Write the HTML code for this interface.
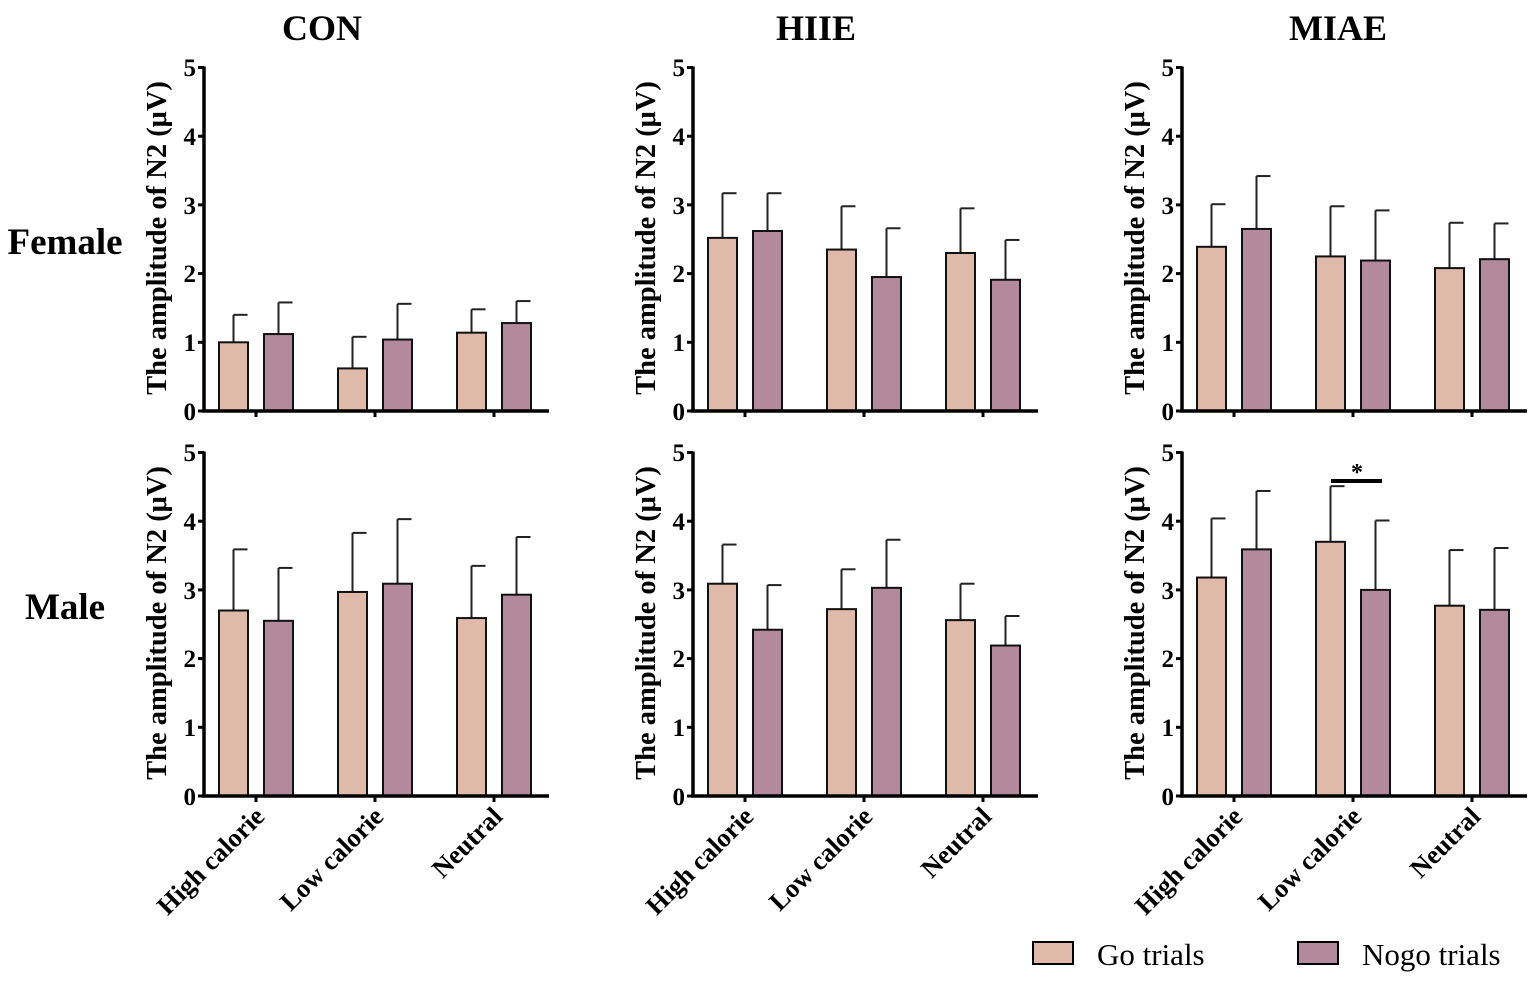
<!DOCTYPE html>
<html><head><meta charset="utf-8"><style>
html,body{margin:0;padding:0;background:#fff;}
svg{display:block;font-family:"Liberation Serif",serif;}
.t{font-weight:bold;font-size:25px;text-anchor:end;}
.yl{font-weight:bold;font-size:28.5px;text-anchor:middle;}
.c{font-weight:bold;font-size:26.5px;text-anchor:end;}
</style></head><body>
<svg id="s" width="1535" height="983" viewBox="0 0 1535 983" xmlns="http://www.w3.org/2000/svg">
<g id="shapes"></g>
<text x="322" y="40" font-size="36" font-weight="bold" text-anchor="middle">CON</text>
<text x="816" y="40" font-size="36" font-weight="bold" text-anchor="middle">HIIE</text>
<text x="1338" y="40" font-size="36" font-weight="bold" text-anchor="middle">MIAE</text>
<text x="65" y="254" font-size="37" font-weight="bold" text-anchor="middle">Female</text>
<text x="65" y="619" font-size="37" font-weight="bold" text-anchor="middle">Male</text>

<g class="t">
<text x="196" y="420">0</text><text x="196" y="351">1</text><text x="196" y="282">2</text><text x="196" y="214">3</text><text x="196" y="145">4</text><text x="196" y="76">5</text>
<text x="685" y="420">0</text><text x="685" y="351">1</text><text x="685" y="282">2</text><text x="685" y="214">3</text><text x="685" y="145">4</text><text x="685" y="76">5</text>
<text x="1174" y="420">0</text><text x="1174" y="351">1</text><text x="1174" y="282">2</text><text x="1174" y="214">3</text><text x="1174" y="145">4</text><text x="1174" y="76">5</text>
<text x="196" y="805">0</text><text x="196" y="736">1</text><text x="196" y="667">2</text><text x="196" y="599">3</text><text x="196" y="530">4</text><text x="196" y="461">5</text>
<text x="685" y="805">0</text><text x="685" y="736">1</text><text x="685" y="667">2</text><text x="685" y="599">3</text><text x="685" y="530">4</text><text x="685" y="461">5</text>
<text x="1174" y="805">0</text><text x="1174" y="736">1</text><text x="1174" y="667">2</text><text x="1174" y="599">3</text><text x="1174" y="530">4</text><text x="1174" y="461">5</text>
</g>
<g class="yl">
<text transform="translate(166,238) rotate(-90)">The amplitude of N2 (μV)</text>
<text transform="translate(655,238) rotate(-90)">The amplitude of N2 (μV)</text>
<text transform="translate(1144,238) rotate(-90)">The amplitude of N2 (μV)</text>
<text transform="translate(166,623) rotate(-90)">The amplitude of N2 (μV)</text>
<text transform="translate(655,623) rotate(-90)">The amplitude of N2 (μV)</text>
<text transform="translate(1144,623) rotate(-90)">The amplitude of N2 (μV)</text>
</g>
<g class="c">
<text transform="translate(266,818) rotate(-45)">High calorie</text>
<text transform="translate(385,818) rotate(-45)">Low calorie</text>
<text transform="translate(504,818) rotate(-45)">Neutral</text>
<text transform="translate(755,818) rotate(-45)">High calorie</text>
<text transform="translate(874,818) rotate(-45)">Low calorie</text>
<text transform="translate(993,818) rotate(-45)">Neutral</text>
<text transform="translate(1244,818) rotate(-45)">High calorie</text>
<text transform="translate(1363,818) rotate(-45)">Low calorie</text>
<text transform="translate(1482,818) rotate(-45)">Neutral</text>
</g>
<text x="1357" y="480" font-size="24" font-weight="bold" text-anchor="middle">*</text>
<rect x="1033" y="942" width="40" height="22" fill="#dfb9aa" stroke="#000" stroke-width="2"/>
<text x="1097" y="965" font-size="31">Go trials</text>
<rect x="1298" y="942" width="40" height="22" fill="#b38a9b" stroke="#000" stroke-width="2"/>
<text x="1362" y="965" font-size="31">Nogo trials</text>
</svg>
<script>
var d=[
[[1.0,1.4,1.12,1.58],[0.62,1.08,1.04,1.56],[1.14,1.48,1.28,1.6]],
[[2.52,3.17,2.62,3.17],[2.35,2.98,1.95,2.66],[2.3,2.95,1.91,2.49]],
[[2.39,3.01,2.65,3.42],[2.25,2.98,2.19,2.92],[2.08,2.74,2.21,2.73]],
[[2.7,3.59,2.55,3.32],[2.97,3.83,3.09,4.03],[2.59,3.35,2.93,3.77]],
[[3.09,3.66,2.42,3.07],[2.72,3.30,3.03,3.73],[2.56,3.09,2.19,2.62]],
[[3.18,4.04,3.59,4.44],[3.70,4.51,3.0,4.01],[2.77,3.58,2.71,3.61]]];
var h='';
for(var p=0;p<6;p++){
 var col=p%3,row=Math.floor(p/3);
 var ax=204+489*col, y0=row?796:411, u=68.7;
 for(var c=0;c<3;c++){
  var cx=256+119*c+489*col, v=d[p][c];
  [[cx-37,v[0],v[1],'#dfb9aa'],[cx+8,v[2],v[3],'#b38a9b']].forEach(function(b){
   var mid=b[0]+14.5, top=y0-b[1]*u, et=y0-b[2]*u;
   h+='<line x1="'+mid+'" y1="'+top+'" x2="'+mid+'" y2="'+et+'" stroke="#222" stroke-width="2"/>';
   h+='<line x1="'+mid+'" y1="'+et+'" x2="'+(mid+14)+'" y2="'+et+'" stroke="#222" stroke-width="2"/>';
   h+='<rect x="'+b[0]+'" y="'+top+'" width="29" height="'+(b[1]*u)+'" fill="'+b[3]+'" stroke="#111" stroke-width="2"/>';
  });
  h+='<line x1="'+cx+'" y1="'+y0+'" x2="'+cx+'" y2="'+(y0+6)+'" stroke="#000" stroke-width="3"/>';
 }
 for(var k=0;k<=5;k++){var yy=y0-k*u;h+='<line x1="'+(ax-6)+'" y1="'+yy+'" x2="'+ax+'" y2="'+yy+'" stroke="#000" stroke-width="3"/>';}
 h+='<line x1="'+ax+'" y1="'+(y0-5*u-1)+'" x2="'+ax+'" y2="'+(y0+1)+'" stroke="#000" stroke-width="3.5"/>';
 h+='<line x1="'+(ax-2)+'" y1="'+y0+'" x2="'+(ax+345)+'" y2="'+y0+'" stroke="#000" stroke-width="3.5"/>';
}
h+='<line x1="1331" y1="481" x2="1382" y2="481" stroke="#000" stroke-width="4"/>';
document.getElementById('shapes').innerHTML=h;
</script>
</body></html>
